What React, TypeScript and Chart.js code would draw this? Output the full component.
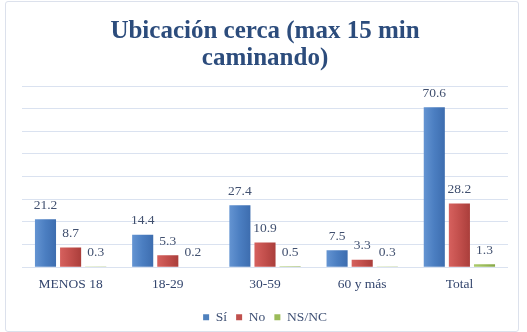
import React, { useEffect, useRef } from 'react';
import { Chart, registerables } from 'chart.js';

Chart.register(...registerables);

const categories = ['MENOS 18', '18-29', '30-59', '60 y más', 'Total'];
const seriesNames = ['Sí', 'No', 'NS/NC'];
const siValues = [21.2, 14.4, 27.4, 7.5, 70.6];
const noValues = [8.7, 5.3, 10.9, 3.3, 28.2];
const nsncValues = [0.3, 0.2, 0.5, 0.3, 1.3];
const yMax = 80;
const yStep = 10;
const titleLines = ['Ubicación cerca (max 15 min', 'caminando)'];

const FONT = "'Liberation Serif', 'Times New Roman', serif";
const baseColors = ['#4F81BD', '#C0504D', '#9BBB59'];
const gradStops = [
  ['#6494D2', '#4B7EC1', '#3D6DAF'],
  ['#D6615E', '#C24F4C', '#AA3E3B'],
  ['#ADCC6E', '#9BBB59', '#87A747'],
];
const CAT_PCT = 0.775;
const BAR_PCT = 0.84;

function barFill(dsIndex: number) {
  return (ctx: any) => {
    const chart = ctx.chart;
    const xs = chart.scales && chart.scales.x;
    const area = chart.chartArea;
    if (!xs || !area || ctx.dataIndex === undefined) return baseColors[dsIndex];
    const center = xs.getPixelForValue(ctx.dataIndex);
    const catW = area.width / categories.length;
    const slot = (catW * CAT_PCT) / 3;
    const w = slot * BAR_PCT;
    const cx = center + (dsIndex - 1) * slot;
    if (!isFinite(cx)) return baseColors[dsIndex];
    const g = chart.ctx.createLinearGradient(cx - w / 2, 0, cx + w / 2, 0);
    g.addColorStop(0, gradStops[dsIndex][0]);
    g.addColorStop(0.5, gradStops[dsIndex][1]);
    g.addColorStop(1, gradStops[dsIndex][2]);
    return g;
  };
}

const valueLabels = {
  id: 'valueLabels',
  afterDatasetsDraw(chart: any) {
    const c = chart.ctx;
    c.save();
    c.font = `13.5px ${FONT}`;
    c.fillStyle = '#41506F';
    c.textAlign = 'center';
    c.textBaseline = 'middle';
    chart.data.datasets.forEach((ds: any, i: number) => {
      const meta = chart.getDatasetMeta(i);
      meta.data.forEach((el: any, j: number) => {
        const v = ds.data[j];
        c.fillText(Number(v).toFixed(1), el.x, el.y - 14);
      });
    });
    c.restore();
  },
};

export default function App() {
  const ref = useRef<HTMLCanvasElement>(null);

  useEffect(() => {
    if (!ref.current) return;
    const seriesData = [siValues, noValues, nsncValues];
    const chart = new Chart(ref.current, {
      type: 'bar',
      data: {
        labels: categories,
        datasets: seriesNames.map((name, i) => ({
          label: name,
          data: seriesData[i],
          backgroundColor: barFill(i),
          borderWidth: 0,
          categoryPercentage: CAT_PCT,
          barPercentage: BAR_PCT,
        })),
      },
      options: {
        animation: false,
        responsive: false,
        maintainAspectRatio: false,
        devicePixelRatio: 1,
        layout: { padding: { left: 16, right: 10, top: 0, bottom: 0 } },
        plugins: {
          title: {
            display: true,
            text: titleLines,
            color: '#2C4C7C',
            font: { family: FONT, size: 25, weight: 'bold', lineHeight: 1.08 },
            padding: { top: 16, bottom: 14 },
          },
          legend: {
            position: 'bottom',
            labels: {
              boxWidth: 6,
              boxHeight: 6,
              padding: 9,
              color: '#3D4F73',
              font: { family: FONT, size: 13.5 },
              generateLabels: () =>
                seriesNames.map((name, i) => ({
                  text: name,
                  fillStyle: baseColors[i],
                  strokeStyle: baseColors[i],
                  lineWidth: 0,
                  hidden: false,
                  datasetIndex: i,
                  fontColor: '#3D4F73',
                })),
            },
          },
          tooltip: { enabled: false },
        },
        scales: {
          x: {
            grid: { display: false, drawTicks: false },
            border: { display: false },
            ticks: { color: '#34466E', font: { family: FONT, size: 13.5 }, padding: 9 },
          },
          y: {
            min: 0,
            max: yMax,
            ticks: { display: false, stepSize: yStep },
            grid: { color: '#DAE2F0', lineWidth: 1, drawTicks: false },
            border: { display: false },
            afterFit: (s: any) => {
              s.width = 0;
            },
          },
        },
      },
      plugins: [valueLabels],
    });
    return () => chart.destroy();
  }, []);

  return (
    <div
      style={{
        position: 'absolute',
        left: 0,
        top: 0,
        width: 527,
        height: 332,
        overflow: 'hidden',
        background: '#fff',
      }}
    >
      <div
        style={{
          position: 'absolute',
          left: 5,
          top: 1,
          width: 514,
          height: 331,
          boxSizing: 'border-box',
          border: '1px solid #DCE1EC',
          borderRadius: 3,
        }}
      />
      <canvas
        ref={ref}
        width={512}
        height={332}
        style={{ position: 'absolute', left: 6, top: 2, width: 512, height: 332 }}
      />
    </div>
  );
}
